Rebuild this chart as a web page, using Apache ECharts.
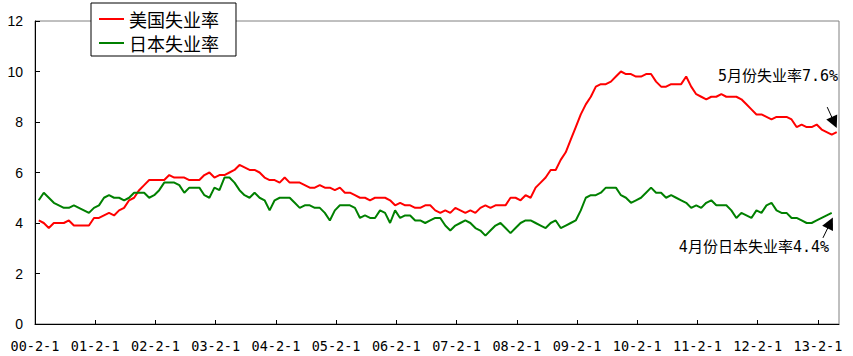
<!DOCTYPE html>
<html><head><meta charset="utf-8">
<script src="https://cdn.jsdelivr.net/npm/echarts@6/dist/echarts.min.js"></script>
<style>html,body{margin:0;padding:0;background:#fff}#c{width:853px;height:356px}</style>
</head><body><div id="c"></div>
<script>
// x-axis tick labels (one per year, February 1st)
const yearLabels = ['00-2-1','01-2-1','02-2-1','03-2-1','04-2-1','05-2-1','06-2-1',
  '07-2-1','08-2-1','09-2-1','10-2-1','11-2-1','12-2-1','13-2-1'];
const seriesNames = ['美国失业率', '日本失业率'];

// US unemployment rate, monthly, Feb 2000 - May 2013
const usRate = [
  4.1,4.0,3.8,4.0,4.0,4.0,4.1,3.9,3.9,3.9,3.9,
  4.2,4.2,4.3,4.4,4.3,4.5,4.6,4.9,5.0,5.3,5.5,5.7,
  5.7,5.7,5.7,5.9,5.8,5.8,5.8,5.7,5.7,5.7,5.9,6.0,
  5.8,5.9,5.9,6.0,6.1,6.3,6.2,6.1,6.1,6.0,5.8,5.7,
  5.7,5.6,5.8,5.6,5.6,5.6,5.5,5.4,5.4,5.5,5.4,5.4,
  5.3,5.4,5.2,5.2,5.1,5.0,5.0,4.9,5.0,5.0,5.0,4.9,
  4.7,4.8,4.7,4.7,4.6,4.6,4.7,4.7,4.5,4.4,4.5,4.4,
  4.6,4.5,4.4,4.5,4.4,4.6,4.7,4.6,4.7,4.7,4.7,5.0,
  5.0,4.9,5.1,5.0,5.4,5.6,5.8,6.1,6.1,6.5,6.8,7.3,
  7.8,8.3,8.7,9.0,9.4,9.5,9.5,9.6,9.8,10.0,9.9,9.9,
  9.8,9.8,9.9,9.9,9.6,9.4,9.4,9.5,9.5,9.5,9.8,9.4,
  9.1,9.0,8.9,9.0,9.0,9.1,9.0,9.0,9.0,8.9,8.7,8.5,
  8.3,8.3,8.2,8.1,8.2,8.2,8.2,8.1,7.8,7.9,7.8,7.8,
  7.9,7.7,7.6,7.5,7.6
];

// Japan unemployment rate, monthly, Feb 2000 - Apr 2013
const jpRate = [
  4.9,5.2,5.0,4.8,4.7,4.6,4.6,4.7,4.6,4.5,4.4,
  4.6,4.7,5.0,5.1,5.0,5.0,4.9,5.0,5.2,5.2,5.2,5.0,
  5.1,5.3,5.6,5.6,5.6,5.5,5.2,5.4,5.4,5.4,5.1,5.0,
  5.4,5.3,5.8,5.8,5.6,5.3,5.1,5.0,5.2,5.0,4.9,4.5,
  4.9,5.0,5.0,5.0,4.8,4.6,4.7,4.7,4.6,4.6,4.4,4.1,
  4.5,4.7,4.7,4.7,4.6,4.2,4.3,4.2,4.2,4.5,4.4,4.0,
  4.5,4.2,4.3,4.3,4.1,4.1,4.0,4.1,4.2,4.2,3.9,3.7,
  3.9,4.0,4.1,4.0,3.8,3.7,3.5,3.7,3.9,4.0,3.8,3.6,
  3.8,4.0,4.1,4.1,4.0,3.9,3.8,4.0,4.1,3.8,3.9,4.0,
  4.1,4.5,5.0,5.1,5.1,5.2,5.4,5.4,5.4,5.1,5.0,4.8,
  4.9,5.0,5.2,5.4,5.2,5.2,5.0,5.1,5.0,4.9,4.8,4.6,
  4.7,4.6,4.8,4.9,4.7,4.7,4.7,4.5,4.2,4.4,4.3,4.2,
  4.5,4.4,4.7,4.8,4.5,4.4,4.4,4.2,4.2,4.1,4.0,4.0,
  4.1,4.2,4.3,4.4
];

const usNote = '5月份失业率7.6%';
const jpNote = '4月份日本失业率4.4%';

const DAY_OFFSET = 0.75;            // monthly points are dated near month end
const toPairs = arr => arr.map((v, i) => [i + DAY_OFFSET, v]);
const tickVals = yearLabels.map((_, k) => k * 12);
const lastUS = usRate.length - 1 + DAY_OFFSET;
const lastJP = jpRate.length - 1 + DAY_OFFSET;

const chart = echarts.init(document.getElementById('c'), null, {renderer: 'svg'});
const noteFont = {fontSize: 15, fontFamily: "'DejaVu Sans Mono','Noto Sans CJK SC'", color: '#000'};

chart.setOption({
  animation: false,
  grid: {left: 35, right: 14, top: 21, bottom: 32, show: true, borderColor: '#808080',
         borderWidth: 1, outerBoundsMode: 'none'},
  legend: {
    orient: 'vertical', left: 91, top: 3,
    padding: [7, 17, 4, 8], itemGap: 6,
    backgroundColor: '#fff', borderColor: '#000', borderWidth: 1,
    icon: 'rect', itemWidth: 25, itemHeight: 2,
    textStyle: {fontSize: 18, lineHeight: 18, fontFamily: "'Noto Sans CJK SC'", color: '#000'},
    data: seriesNames
  },
  xAxis: {
    type: 'value', min: 0, max: 160.2,
    axisLine: {lineStyle: {color: '#000', width: 1}},
    axisTick: {inside: true, length: 4, lineStyle: {color: '#000'}, customValues: tickVals},
    axisLabel: {customValues: tickVals, margin: 15, fontSize: 13.5, color: '#000',
      fontFamily: "'DejaVu Sans Mono'",
      formatter: v => yearLabels[Math.round(v / 12)] || ''},
    splitLine: {show: false}
  },
  yAxis: {
    type: 'value', min: 0, max: 12, interval: 2,
    axisLine: {show: true, lineStyle: {color: '#000', width: 1}},
    axisTick: {show: true, inside: true, length: 5, lineStyle: {color: '#000'}},
    axisLabel: {margin: 12, fontSize: 14, color: '#000', fontFamily: "'Liberation Sans'"},
    splitLine: {show: false}
  },
  series: [
    {
      name: seriesNames[0], type: 'line', data: toPairs(usRate),
      showSymbol: false, color: '#ff0000', lineStyle: {width: 2, color: '#ff0000'},
      markLine: {
        silent: true, symbol: ['none', 'triangle'], symbolSize: 12,
        lineStyle: {color: '#000', width: 1, type: 'solid'}, label: {show: false},
        data: [[{coord: [lastUS - 1.9, 8.59]}, {coord: [lastUS - 0.5, 7.98]}]]
      },
      markPoint: {
        symbol: 'circle', symbolSize: 0, silent: true,
        label: Object.assign({show: true, position: 'inside', formatter: '{b}'}, noteFont),
        data: [{name: usNote, coord: [lastUS - 11.7, 9.83]}]
      }
    },
    {
      name: seriesNames[1], type: 'line', data: toPairs(jpRate),
      showSymbol: false, color: '#008000', lineStyle: {width: 2, color: '#008000'},
      markLine: {
        silent: true, symbol: ['none', 'triangle'], symbolSize: 12,
        lineStyle: {color: '#000', width: 1, type: 'solid'}, label: {show: false},
        data: [[{coord: [lastJP - 1.75, 3.41]}, {coord: [lastJP - 0.3, 4.0]}]]
      },
      markPoint: {
        symbol: 'circle', symbolSize: 0, silent: true,
        label: Object.assign({show: true, position: 'inside', formatter: '{b}'}, noteFont),
        data: [{name: jpNote, coord: [lastJP - 15.5, 3.05]}]
      }
    }
  ]
});
</script>
</body></html>
